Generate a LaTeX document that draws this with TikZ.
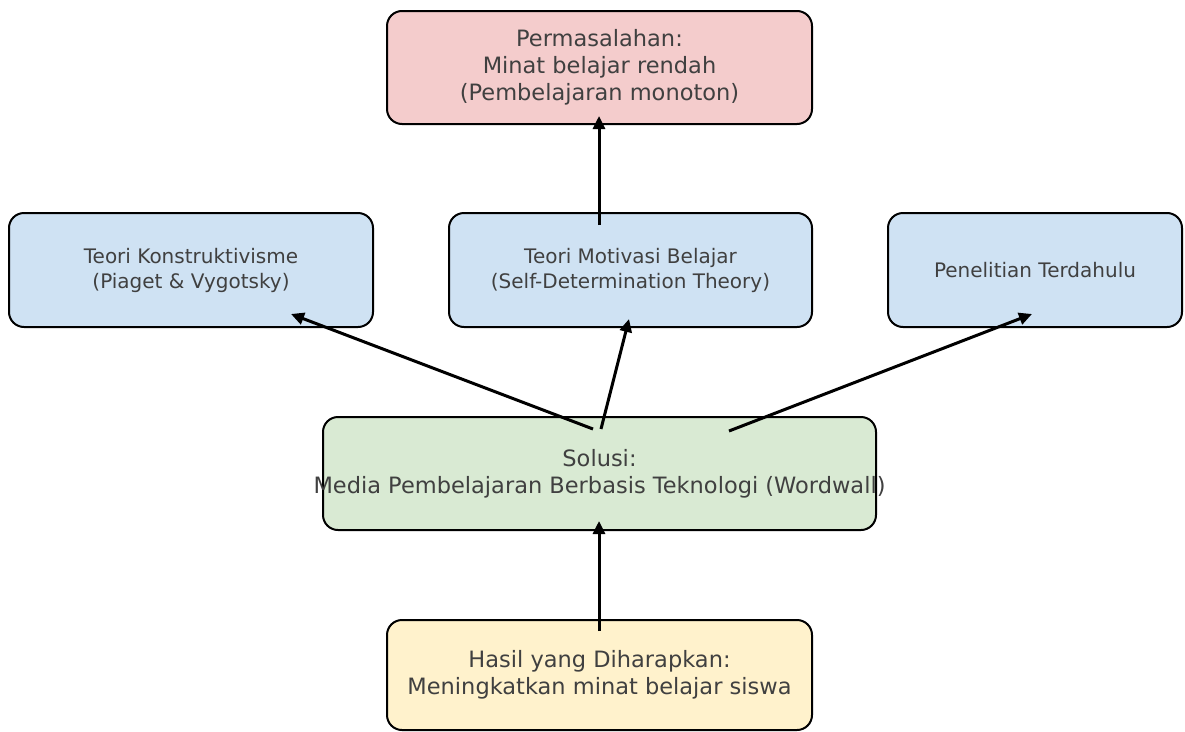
\documentclass[tikz,border=0pt]{standalone}
\usepackage{fontspec}
\setmainfont{DejaVu Sans}
\usetikzlibrary{arrows.meta}
\definecolor{pinkbox}{HTML}{F4CCCC}
\definecolor{bluebox}{HTML}{CFE2F3}
\definecolor{greenbox}{HTML}{D9EAD3}
\definecolor{yellowbox}{HTML}{FFF2CC}
\tikzset{
  box/.style={draw=black, line width=2pt, rounded corners=15pt, align=center,
    text=black!75, inner sep=0pt},
  bigbox/.style={box, font=\fontsize{22.5}{27}\selectfont},
  smallbox/.style={box, font=\fontsize{20}{25}\selectfont},
  arr/.style={line width=3pt, -{Triangle[length=13pt,width=12pt]}}
}
\begin{document}
\begin{tikzpicture}[x=1pt,y=-1pt]
				\useasboundingbox (0,0) rectangle (1185,731);
				\node[bigbox, fill=pinkbox, minimum width=425, minimum height=113] (P) at (599.5,67.5)
					{Permasalahan:\\Minat belajar rendah\\(Pembelajaran monoton)};
				\node[smallbox, fill=bluebox, minimum width=364, minimum height=114] (K) at (191,270)
					{Teori Konstruktivisme\\(Piaget \& Vygotsky)};
				\node[smallbox, fill=bluebox, minimum width=363, minimum height=114] (M) at (630.5,270)
					{Teori Motivasi Belajar\\(Self-Determination Theory)};
				\node[smallbox, fill=bluebox, minimum width=294, minimum height=114] (T) at (1035,270)
					{Penelitian Terdahulu};
				\node[bigbox, fill=greenbox, minimum width=553, minimum height=113] (S) at (599.5,473.5)
					{Solusi:\\\makebox[500pt][c]{Media Pembelajaran Berbasis Teknologi (Wordwall)}};
				\node[bigbox, fill=yellowbox, minimum width=425, minimum height=110] (H) at (599.5,675)
					{Hasil yang Diharapkan:\\Meningkatkan minat belajar siswa};
				% arrow ends, lying inside the boxes
				\coordinate (H1) at ([shift={(-0.5,12)}]H.north);
				\coordinate (S0) at ([shift={(-0.5,-10)}]S.south);
				\coordinate (S1) at ([shift={(-6.5,13)}]S.north);
				\coordinate (S2) at ([shift={(1.5,13)}]S.north);
				\coordinate (S3) at ([shift={(129.5,15)}]S.north);
				\coordinate (K0) at ([shift={(100,-14)}]K.south);
				\coordinate (M0) at ([shift={(-1.5,-9)}]M.south);
				\coordinate (M1) at ([shift={(-31.5,13)}]M.north);
				\coordinate (T0) at ([shift={(-3,-14)}]T.south);
				\coordinate (P0) at ([shift={(-0.5,-9)}]P.south);
				\draw[arr] (H1) to (S0);
				\draw[arr] (S1) to (K0);
				\draw[arr] (S2) to (M0);
				\draw[arr] (S3) to (T0);
				\draw[arr] (M1) to (P0);
\end{tikzpicture}
\end{document}
